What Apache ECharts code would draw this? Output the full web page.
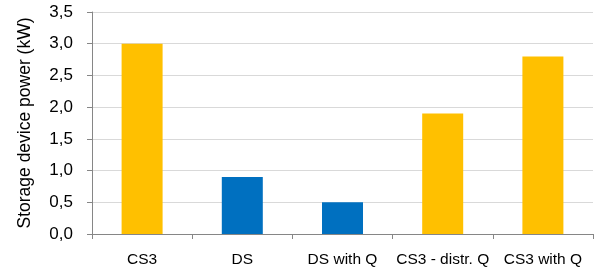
<!DOCTYPE html>
<html><head><meta charset="utf-8">
<script src="https://cdn.jsdelivr.net/npm/echarts@6/dist/echarts.min.js"></script>
<style>html,body{margin:0;padding:0;background:#fff}#c{width:595px;height:275px}</style>
</head><body><div id="c"></div>
<script>
const categories = ["CS3", "DS", "DS with Q", "CS3 - distr. Q", "CS3 with Q"];
const values = [3.0, 0.9, 0.5, 1.9, 2.8];
const barColors = ["#FFC000", "#0070C0", "#0070C0", "#FFC000", "#FFC000"];
const yTicks = [0, 0.5, 1.0, 1.5, 2.0, 2.5, 3.0, 3.5];

const chart = echarts.init(document.getElementById('c'), null, {renderer: 'canvas'});
const font = "Liberation Sans, Arial, sans-serif";
chart.setOption({
  animation: false,
  grid: {left: 92, right: 2, top: 12, bottom: 41, containLabel: false, outerBoundsMode: 'none'},
  xAxis: {
    type: 'category', data: categories,
    axisLine: {lineStyle: {color: '#868686', width: 1}},
    axisTick: {show: true, length: 5, lineStyle: {color: '#868686'}},
    axisLabel: {color: '#000', fontFamily: font, fontSize: 15.5, margin: 18, interval: 0}
  },
  yAxis: {
    type: 'value', min: yTicks[0], max: yTicks[yTicks.length-1], interval: 0.5,
    name: 'Storage device power (kW)', nameLocation: 'middle', nameGap: 58,
    nameTextStyle: {color: '#000', fontFamily: font, fontSize: 17.5},
    axisLine: {show: true, lineStyle: {color: '#868686', width: 1}},
    axisTick: {show: true, length: 5, lineStyle: {color: '#868686'}},
    axisLabel: {color: '#000', fontFamily: font, fontSize: 17, margin: 19,
      formatter: v => v.toFixed(1).replace('.', ',')},
    splitLine: {lineStyle: {color: '#D9D9D9', width: 1}}
  },
  series: [{
    type: 'bar', barWidth: 41,
    data: values.map((v, i) => ({value: v, itemStyle: {color: barColors[i]}}))
  }]
});
</script></body></html>
